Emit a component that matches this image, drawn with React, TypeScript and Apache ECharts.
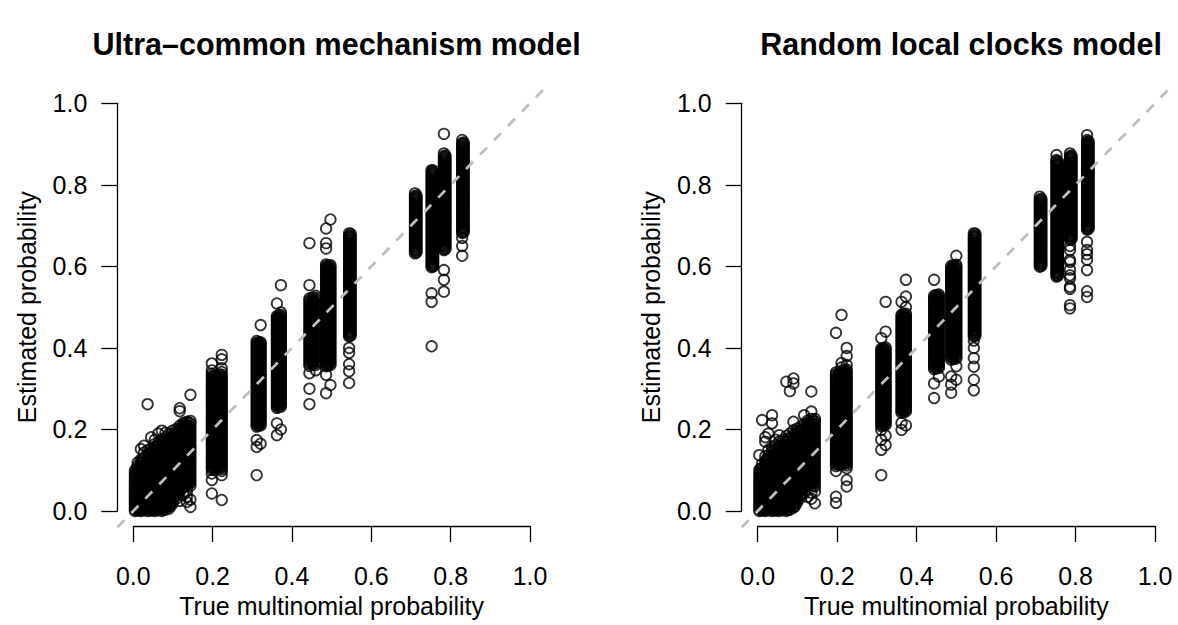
import React, { useEffect, useRef } from "react";
import * as echarts from "echarts";

const panelTitles = ["Ultra\u2013common mechanism model", "Random local clocks model"];
const xAxisTitle = "True multinomial probability";
const yAxisTitle = "Estimated probability";
const identityLine = [-0.04, 1.04];

// Ultra-common mechanism model: true probability (x) columns and the estimates (y) read at each
const ucmX = [0.004, 0.011, 0.019, 0.027, 0.036, 0.045, 0.054, 0.063, 0.072, 0.081, 0.090, 0.099, 0.108, 0.117, 0.126, 0.135, 0.144,
  0.198, 0.223, 0.311, 0.321, 0.362, 0.372, 0.444, 0.460, 0.486, 0.497, 0.544, 0.710, 0.752, 0.783, 0.829,
  0.210, 0.316, 0.367, 0.452, 0.491, 0.548, 0.714, 0.756, 0.787, 0.833,
  0.008, 0.023, 0.040, 0.058, 0.076, 0.094, 0.112, 0.130, 0.140, 0.204, 0.217];
const ucmY = [
  [0.000,0.004,0.010,0.015,0.021,0.026,0.032,0.037,0.043,0.048,0.054,0.059,0.065,0.071,0.077,0.084,0.091,0.099],
  [0.001,0.007,0.012,0.018,0.023,0.029,0.034,0.040,0.046,0.051,0.057,0.063,0.069,0.075,0.081,0.088,0.095,0.103,0.111,0.119],
  [0.000,0.005,0.011,0.016,0.022,0.028,0.033,0.039,0.045,0.050,0.056,0.062,0.068,0.074,0.080,0.087,0.094,0.101,0.109,0.117,0.126,0.152],
  [0.002,0.008,0.013,0.019,0.025,0.031,0.036,0.042,0.048,0.054,0.060,0.066,0.072,0.078,0.085,0.092,0.099,0.106,0.114,0.122,0.131,0.143,0.160],
  [0.000,0.006,0.012,0.018,0.024,0.030,0.036,0.042,0.048,0.054,0.060,0.066,0.072,0.079,0.086,0.093,0.100,0.107,0.115,0.123,0.131,0.140,0.149,0.262],
  [0.001,0.007,0.013,0.019,0.025,0.031,0.037,0.043,0.050,0.056,0.062,0.069,0.075,0.082,0.089,0.096,0.103,0.110,0.118,0.126,0.134,0.143,0.153,0.181],
  [0.000,0.006,0.012,0.018,0.025,0.031,0.037,0.044,0.050,0.057,0.063,0.070,0.077,0.084,0.091,0.098,0.105,0.113,0.120,0.128,0.136,0.145,0.154,0.164,0.174],
  [0.002,0.008,0.014,0.021,0.027,0.034,0.040,0.047,0.053,0.060,0.067,0.074,0.081,0.088,0.095,0.102,0.110,0.117,0.125,0.133,0.141,0.150,0.159,0.168,0.190],
  [0.000,0.006,0.013,0.019,0.026,0.032,0.039,0.046,0.052,0.059,0.066,0.073,0.080,0.087,0.094,0.101,0.109,0.116,0.124,0.132,0.140,0.148,0.157,0.166,0.176,0.197],
  [0.003,0.009,0.016,0.022,0.029,0.036,0.043,0.049,0.056,0.063,0.070,0.077,0.084,0.092,0.099,0.106,0.114,0.122,0.130,0.138,0.146,0.154,0.163,0.172,0.181,0.192],
  [0.006,0.012,0.019,0.026,0.033,0.040,0.047,0.054,0.061,0.068,0.075,0.083,0.090,0.098,0.105,0.113,0.121,0.129,0.137,0.145,0.153,0.162,0.171,0.180,0.189],
  [0.018,0.025,0.032,0.039,0.046,0.053,0.060,0.068,0.075,0.082,0.090,0.097,0.105,0.113,0.120,0.128,0.136,0.144,0.152,0.161,0.169,0.178,0.187,0.197],
  [0.030,0.037,0.044,0.051,0.058,0.066,0.073,0.080,0.088,0.095,0.103,0.110,0.118,0.126,0.134,0.142,0.150,0.158,0.166,0.175,0.183,0.192,0.201],
  [0.025,0.046,0.053,0.060,0.067,0.075,0.082,0.090,0.097,0.105,0.112,0.120,0.128,0.136,0.144,0.152,0.160,0.168,0.176,0.185,0.193,0.201,0.209,0.245,0.252],
  [0.040,0.058,0.065,0.072,0.080,0.087,0.095,0.102,0.110,0.117,0.125,0.132,0.140,0.148,0.156,0.163,0.171,0.179,0.187,0.195,0.203,0.210,0.216],
  [0.022,0.035,0.048,0.064,0.071,0.078,0.085,0.093,0.100,0.107,0.114,0.122,0.129,0.137,0.144,0.151,0.159,0.166,0.174,0.181,0.189,0.196,0.204,0.211,0.219],
  [0.010,0.028,0.062,0.069,0.076,0.083,0.090,0.098,0.105,0.112,0.119,0.126,0.133,0.141,0.148,0.155,0.162,0.170,0.177,0.184,0.192,0.199,0.206,0.214,0.221,0.285],
  [0.043,0.076,0.092,0.101,0.106,0.110,0.116,0.121,0.125,0.131,0.135,0.140,0.146,0.150,0.156,0.161,0.165,0.170,0.176,0.180,0.185,0.191,0.195,0.201,0.205,0.210,0.216,0.220,0.226,0.230,0.235,0.241,0.245,0.250,0.256,0.260,0.265,0.271,0.275,0.280,0.286,0.290,0.296,0.300,0.305,0.311,0.315,0.321,0.326,0.331,0.337,0.345,0.362],
  [0.027,0.088,0.098,0.103,0.108,0.113,0.118,0.123,0.128,0.133,0.138,0.143,0.148,0.153,0.158,0.163,0.168,0.173,0.178,0.183,0.188,0.193,0.198,0.203,0.208,0.213,0.218,0.223,0.228,0.233,0.238,0.243,0.248,0.253,0.258,0.263,0.268,0.273,0.278,0.283,0.288,0.293,0.298,0.303,0.308,0.313,0.318,0.323,0.328,0.334,0.341,0.350,0.372,0.383],
  [0.088,0.157,0.174,0.207,0.212,0.217,0.222,0.227,0.232,0.237,0.242,0.247,0.252,0.257,0.262,0.267,0.272,0.277,0.282,0.287,0.292,0.297,0.302,0.307,0.312,0.317,0.322,0.327,0.332,0.337,0.342,0.347,0.352,0.357,0.362,0.367,0.372,0.377,0.382,0.387,0.392,0.397,0.402,0.407,0.412,0.417],
  [0.165,0.210,0.215,0.220,0.225,0.230,0.235,0.240,0.245,0.250,0.255,0.260,0.265,0.270,0.275,0.280,0.285,0.290,0.295,0.300,0.305,0.310,0.315,0.320,0.325,0.330,0.335,0.340,0.345,0.350,0.355,0.360,0.365,0.370,0.375,0.380,0.385,0.390,0.395,0.400,0.405,0.410,0.414,0.456],
  [0.186,0.215,0.253,0.258,0.263,0.268,0.273,0.278,0.283,0.288,0.293,0.298,0.303,0.308,0.313,0.318,0.323,0.328,0.333,0.338,0.343,0.348,0.353,0.358,0.363,0.368,0.373,0.378,0.383,0.388,0.393,0.398,0.403,0.408,0.413,0.418,0.423,0.428,0.433,0.438,0.443,0.448,0.453,0.458,0.463,0.468,0.473,0.478,0.509],
  [0.200,0.256,0.261,0.266,0.271,0.276,0.281,0.286,0.291,0.296,0.301,0.306,0.311,0.316,0.321,0.326,0.331,0.336,0.341,0.346,0.351,0.356,0.361,0.366,0.371,0.376,0.381,0.386,0.391,0.396,0.401,0.406,0.411,0.416,0.421,0.426,0.431,0.436,0.441,0.446,0.451,0.456,0.461,0.466,0.471,0.476,0.481,0.487,0.554],
  [0.262,0.300,0.338,0.356,0.361,0.366,0.371,0.376,0.381,0.386,0.391,0.396,0.401,0.406,0.411,0.416,0.421,0.426,0.431,0.436,0.441,0.446,0.451,0.456,0.461,0.466,0.471,0.476,0.481,0.486,0.491,0.496,0.501,0.506,0.511,0.516,0.521,0.554,0.657],
  [0.345,0.358,0.363,0.368,0.373,0.378,0.383,0.388,0.393,0.398,0.403,0.408,0.413,0.418,0.423,0.428,0.433,0.438,0.443,0.448,0.453,0.458,0.463,0.468,0.473,0.478,0.483,0.488,0.493,0.498,0.503,0.508,0.513,0.518,0.523,0.528],
  [0.289,0.334,0.355,0.360,0.365,0.370,0.375,0.380,0.385,0.390,0.395,0.400,0.405,0.410,0.415,0.420,0.425,0.430,0.435,0.440,0.445,0.450,0.455,0.460,0.465,0.470,0.475,0.480,0.485,0.490,0.495,0.500,0.505,0.510,0.515,0.520,0.525,0.530,0.535,0.540,0.545,0.550,0.555,0.560,0.565,0.570,0.575,0.580,0.585,0.590,0.595,0.600,0.605,0.644,0.657,0.693],
  [0.309,0.358,0.363,0.368,0.373,0.378,0.383,0.388,0.393,0.398,0.403,0.408,0.413,0.418,0.423,0.428,0.433,0.438,0.443,0.448,0.453,0.458,0.463,0.468,0.473,0.478,0.483,0.488,0.493,0.498,0.503,0.508,0.513,0.518,0.523,0.528,0.533,0.538,0.543,0.548,0.553,0.558,0.563,0.568,0.573,0.578,0.583,0.588,0.593,0.598,0.603,0.715],
  [0.314,0.343,0.360,0.388,0.400,0.428,0.432,0.437,0.441,0.446,0.450,0.455,0.459,0.464,0.468,0.473,0.477,0.482,0.486,0.491,0.495,0.500,0.504,0.509,0.513,0.518,0.522,0.527,0.531,0.536,0.540,0.545,0.549,0.554,0.558,0.563,0.567,0.572,0.576,0.581,0.585,0.590,0.594,0.599,0.603,0.608,0.612,0.617,0.621,0.626,0.630,0.635,0.639,0.644,0.648,0.653,0.657,0.662,0.666,0.671,0.675,0.681],
  [0.632,0.637,0.642,0.647,0.652,0.657,0.662,0.667,0.672,0.677,0.682,0.687,0.692,0.697,0.702,0.707,0.712,0.717,0.722,0.727,0.732,0.737,0.742,0.747,0.752,0.757,0.762,0.767,0.772,0.779],
  [0.404,0.513,0.534,0.598,0.602,0.607,0.611,0.616,0.620,0.625,0.629,0.634,0.638,0.643,0.647,0.652,0.656,0.661,0.665,0.670,0.674,0.679,0.683,0.688,0.692,0.697,0.701,0.706,0.710,0.715,0.719,0.724,0.728,0.733,0.737,0.742,0.746,0.751,0.755,0.760,0.764,0.769,0.773,0.778,0.782,0.787,0.791,0.796,0.800,0.805,0.809,0.814,0.818,0.823,0.827,0.832,0.836],
  [0.538,0.567,0.591,0.640,0.644,0.649,0.653,0.658,0.662,0.667,0.671,0.676,0.680,0.685,0.689,0.694,0.698,0.703,0.707,0.712,0.716,0.721,0.725,0.730,0.734,0.739,0.743,0.748,0.752,0.757,0.761,0.766,0.770,0.775,0.779,0.784,0.788,0.793,0.797,0.802,0.806,0.811,0.815,0.820,0.824,0.829,0.833,0.838,0.842,0.847,0.851,0.856,0.860,0.865,0.870,0.877,0.925],
  [0.626,0.650,0.670,0.682,0.686,0.691,0.695,0.700,0.704,0.709,0.713,0.718,0.722,0.727,0.731,0.736,0.740,0.745,0.749,0.754,0.758,0.763,0.767,0.772,0.776,0.781,0.785,0.790,0.794,0.799,0.803,0.808,0.812,0.817,0.821,0.826,0.830,0.835,0.839,0.844,0.848,0.853,0.857,0.862,0.866,0.871,0.875,0.880,0.884,0.889,0.893,0.898,0.902,0.910],
  [0.106,0.111,0.116,0.121,0.126,0.131,0.136,0.141,0.146,0.151,0.156,0.161,0.166,0.171,0.176,0.181,0.186,0.191,0.196,0.201,0.206,0.211,0.216,0.221,0.226,0.231,0.236,0.241,0.246,0.251,0.256,0.261,0.266,0.271,0.276,0.281,0.286,0.291,0.296,0.301,0.306,0.311,0.316,0.321,0.326,0.331],
  [0.209,0.214,0.219,0.224,0.229,0.234,0.239,0.244,0.249,0.254,0.259,0.264,0.269,0.274,0.279,0.284,0.289,0.294,0.299,0.304,0.309,0.314,0.319,0.324,0.329,0.334,0.339,0.344,0.349,0.354,0.359,0.364,0.369,0.374,0.379,0.384,0.389,0.394,0.399,0.404,0.409,0.414],
  [0.255,0.260,0.265,0.270,0.275,0.280,0.285,0.290,0.295,0.300,0.305,0.310,0.315,0.320,0.325,0.330,0.335,0.340,0.345,0.350,0.355,0.360,0.365,0.370,0.375,0.380,0.385,0.390,0.395,0.400,0.405,0.410,0.415,0.420,0.425,0.430,0.435,0.440,0.445,0.450,0.455,0.460,0.465,0.470,0.475,0.480],
  [0.359,0.364,0.369,0.374,0.379,0.384,0.389,0.394,0.399,0.404,0.409,0.414,0.419,0.424,0.429,0.434,0.439,0.444,0.449,0.454,0.459,0.464,0.469,0.474,0.479,0.484,0.489,0.494,0.499,0.504,0.509,0.514,0.519,0.524],
  [0.357,0.362,0.367,0.372,0.377,0.382,0.387,0.392,0.397,0.402,0.407,0.412,0.417,0.422,0.427,0.432,0.437,0.442,0.447,0.452,0.457,0.462,0.467,0.472,0.477,0.482,0.487,0.492,0.497,0.502,0.507,0.512,0.517,0.522,0.527,0.532,0.537,0.542,0.547,0.552,0.557,0.562,0.567,0.572,0.577,0.582,0.587,0.592,0.597,0.602],
  [0.430,0.435,0.440,0.445,0.450,0.455,0.460,0.465,0.470,0.475,0.480,0.485,0.490,0.495,0.500,0.505,0.510,0.515,0.520,0.525,0.530,0.535,0.540,0.545,0.550,0.555,0.560,0.565,0.570,0.575,0.580,0.585,0.590,0.595,0.600,0.605,0.610,0.615,0.620,0.625,0.630,0.635,0.640,0.645,0.650,0.655,0.660,0.665,0.670,0.675,0.680],
  [0.634,0.639,0.644,0.649,0.654,0.659,0.664,0.669,0.674,0.679,0.684,0.689,0.694,0.699,0.704,0.709,0.714,0.719,0.724,0.729,0.734,0.739,0.744,0.749,0.754,0.759,0.764,0.769,0.774],
  [0.600,0.605,0.610,0.615,0.620,0.625,0.630,0.635,0.640,0.645,0.650,0.655,0.660,0.665,0.670,0.675,0.680,0.685,0.690,0.695,0.700,0.705,0.710,0.715,0.720,0.725,0.730,0.735,0.740,0.745,0.750,0.755,0.760,0.765,0.770,0.775,0.780,0.785,0.790,0.795,0.800,0.805,0.810,0.815,0.820,0.825,0.830,0.835],
  [0.642,0.647,0.652,0.657,0.662,0.667,0.672,0.677,0.682,0.687,0.692,0.697,0.702,0.707,0.712,0.717,0.722,0.727,0.732,0.737,0.742,0.747,0.752,0.757,0.762,0.767,0.772,0.777,0.782,0.787,0.792,0.797,0.802,0.807,0.812,0.817,0.822,0.827,0.832,0.837,0.842,0.847,0.852,0.857,0.862,0.867,0.872],
  [0.684,0.689,0.694,0.699,0.704,0.709,0.714,0.719,0.724,0.729,0.734,0.739,0.744,0.749,0.754,0.759,0.764,0.769,0.774,0.779,0.784,0.789,0.794,0.799,0.804,0.809,0.814,0.819,0.824,0.829,0.834,0.839,0.844,0.849,0.854,0.859,0.864,0.869,0.874,0.879,0.884,0.889,0.894,0.899,0.904],
  [0.003,0.009,0.015,0.021,0.027,0.033,0.039,0.045,0.051,0.057,0.063,0.069,0.075,0.082,0.089,0.096,0.104],
  [0.003,0.009,0.015,0.021,0.027,0.033,0.039,0.045,0.051,0.057,0.063,0.069,0.075,0.082,0.089,0.096,0.103,0.110,0.118,0.126],
  [0.003,0.009,0.015,0.021,0.027,0.033,0.039,0.045,0.051,0.057,0.063,0.069,0.076,0.083,0.090,0.097,0.104,0.111,0.119,0.127,0.135,0.144],
  [0.003,0.009,0.015,0.022,0.028,0.034,0.041,0.047,0.054,0.060,0.067,0.074,0.081,0.088,0.095,0.102,0.109,0.116,0.124,0.132,0.140,0.149,0.158],
  [0.003,0.010,0.016,0.023,0.029,0.036,0.043,0.050,0.057,0.064,0.071,0.078,0.085,0.092,0.099,0.106,0.113,0.120,0.128,0.136,0.144,0.153,0.162,0.171],
  [0.012,0.019,0.026,0.033,0.040,0.047,0.054,0.061,0.068,0.075,0.082,0.089,0.096,0.104,0.112,0.120,0.128,0.136,0.144,0.152,0.160,0.169,0.178],
  [0.040,0.047,0.055,0.062,0.070,0.077,0.085,0.092,0.100,0.108,0.116,0.124,0.132,0.140,0.148,0.156,0.164,0.172,0.180,0.189,0.198],
  [0.062,0.069,0.076,0.084,0.091,0.099,0.106,0.114,0.121,0.129,0.136,0.144,0.152,0.159,0.167,0.175,0.183,0.191,0.199,0.207,0.214],
  [0.066,0.073,0.080,0.087,0.094,0.102,0.109,0.116,0.123,0.130,0.137,0.145,0.152,0.159,0.166,0.173,0.180,0.188,0.195,0.202,0.209,0.217],
  [0.103,0.108,0.113,0.118,0.123,0.128,0.133,0.138,0.143,0.148,0.153,0.158,0.163,0.168,0.173,0.178,0.183,0.188,0.193,0.198,0.203,0.208,0.213,0.218,0.223,0.228,0.233,0.238,0.243,0.248,0.253,0.258,0.263,0.268,0.273,0.278,0.283,0.288,0.293,0.298,0.303,0.308,0.313,0.318,0.323,0.328,0.333],
  [0.105,0.110,0.115,0.120,0.125,0.130,0.135,0.140,0.145,0.150,0.155,0.160,0.165,0.170,0.175,0.180,0.185,0.190,0.195,0.200,0.205,0.210,0.215,0.220,0.225,0.230,0.235,0.240,0.245,0.250,0.255,0.260,0.265,0.270,0.275,0.280,0.285,0.290,0.295,0.300,0.305,0.310,0.315,0.320,0.325,0.330,0.335],
];

// Random local clocks model
const rlcX = [0.004, 0.011, 0.019, 0.027, 0.036, 0.045, 0.054, 0.063, 0.072, 0.081, 0.090, 0.099, 0.108, 0.117, 0.126, 0.135, 0.144,
  0.197, 0.211, 0.224, 0.311, 0.322, 0.362, 0.373, 0.444, 0.456, 0.487, 0.500, 0.544, 0.710, 0.752, 0.786, 0.829,
  0.211, 0.316, 0.367, 0.450, 0.493, 0.548, 0.714, 0.756, 0.790, 0.833,
  0.008, 0.023, 0.040, 0.058, 0.076, 0.094, 0.112, 0.130, 0.140, 0.204, 0.218];
const rlcY = [
  [0.000,0.005,0.011,0.017,0.023,0.029,0.036,0.042,0.049,0.055,0.062,0.069,0.076,0.084,0.092,0.101,0.137],
  [0.001,0.007,0.013,0.019,0.026,0.032,0.039,0.045,0.052,0.059,0.066,0.073,0.080,0.088,0.096,0.105,0.115,0.223],
  [0.000,0.006,0.012,0.018,0.025,0.031,0.038,0.044,0.051,0.058,0.065,0.072,0.079,0.087,0.095,0.103,0.112,0.122,0.134,0.170,0.181],
  [0.002,0.008,0.014,0.021,0.027,0.034,0.041,0.047,0.054,0.061,0.068,0.075,0.083,0.091,0.099,0.107,0.116,0.126,0.137,0.150,0.190],
  [0.000,0.006,0.013,0.019,0.026,0.032,0.039,0.046,0.053,0.060,0.067,0.074,0.082,0.090,0.098,0.106,0.115,0.124,0.134,0.145,0.157,0.215,0.235],
  [0.001,0.007,0.014,0.020,0.027,0.034,0.041,0.048,0.055,0.062,0.069,0.077,0.085,0.093,0.101,0.110,0.119,0.128,0.138,0.149,0.161,0.175],
  [0.000,0.006,0.012,0.019,0.026,0.033,0.040,0.047,0.054,0.061,0.068,0.076,0.084,0.092,0.100,0.109,0.118,0.127,0.137,0.147,0.158,0.170,0.186],
  [0.002,0.008,0.015,0.022,0.029,0.036,0.043,0.050,0.057,0.064,0.072,0.080,0.088,0.096,0.104,0.113,0.122,0.131,0.141,0.151,0.162,0.174],
  [0.000,0.006,0.013,0.020,0.027,0.034,0.041,0.049,0.056,0.063,0.071,0.079,0.087,0.095,0.103,0.112,0.121,0.130,0.140,0.150,0.161,0.172,0.184,0.317],
  [0.003,0.010,0.017,0.024,0.031,0.038,0.046,0.053,0.061,0.068,0.076,0.084,0.092,0.100,0.109,0.118,0.127,0.136,0.146,0.156,0.167,0.178,0.190,0.294],
  [0.008,0.015,0.022,0.029,0.037,0.044,0.052,0.059,0.067,0.075,0.083,0.091,0.099,0.108,0.117,0.126,0.135,0.145,0.155,0.165,0.176,0.187,0.198,0.219,0.313,0.325],
  [0.020,0.027,0.035,0.042,0.050,0.057,0.065,0.073,0.081,0.089,0.097,0.105,0.114,0.123,0.132,0.141,0.150,0.160,0.170,0.180,0.191,0.202],
  [0.032,0.040,0.047,0.055,0.063,0.071,0.079,0.087,0.095,0.103,0.111,0.120,0.129,0.138,0.147,0.156,0.166,0.176,0.186,0.196,0.207],
  [0.043,0.058,0.066,0.074,0.082,0.090,0.098,0.106,0.114,0.122,0.131,0.140,0.149,0.158,0.167,0.176,0.186,0.196,0.205,0.214,0.235],
  [0.035,0.062,0.070,0.078,0.086,0.094,0.102,0.110,0.118,0.126,0.135,0.143,0.152,0.160,0.169,0.178,0.187,0.196,0.205,0.214,0.222],
  [0.030,0.045,0.066,0.074,0.082,0.090,0.098,0.106,0.114,0.122,0.130,0.138,0.146,0.154,0.162,0.170,0.178,0.186,0.194,0.202,0.210,0.218,0.226,0.244,0.293],
  [0.019,0.048,0.060,0.068,0.076,0.084,0.092,0.100,0.108,0.116,0.124,0.132,0.140,0.148,0.156,0.164,0.172,0.180,0.188,0.196,0.204,0.212,0.220,0.226],
  [0.020,0.035,0.098,0.110,0.115,0.120,0.125,0.130,0.135,0.140,0.145,0.150,0.155,0.160,0.165,0.170,0.175,0.180,0.185,0.190,0.195,0.200,0.205,0.210,0.215,0.220,0.225,0.230,0.235,0.240,0.245,0.250,0.255,0.260,0.265,0.270,0.275,0.280,0.285,0.290,0.295,0.300,0.305,0.310,0.315,0.320,0.325,0.330,0.335,0.340,0.437],
  [0.352,0.363,0.481],
  [0.060,0.076,0.105,0.112,0.117,0.122,0.127,0.132,0.137,0.142,0.147,0.152,0.157,0.162,0.167,0.172,0.177,0.182,0.187,0.192,0.197,0.202,0.207,0.212,0.217,0.222,0.227,0.232,0.237,0.242,0.247,0.252,0.257,0.262,0.267,0.272,0.277,0.282,0.287,0.292,0.297,0.302,0.307,0.312,0.317,0.322,0.327,0.332,0.337,0.342,0.347,0.358,0.380,0.400],
  [0.088,0.150,0.175,0.199,0.208,0.213,0.218,0.223,0.228,0.233,0.238,0.243,0.248,0.253,0.258,0.263,0.268,0.273,0.278,0.283,0.288,0.293,0.298,0.303,0.308,0.313,0.318,0.323,0.328,0.333,0.338,0.343,0.348,0.353,0.358,0.363,0.368,0.373,0.378,0.383,0.388,0.393,0.398,0.424],
  [0.162,0.185,0.211,0.216,0.221,0.226,0.231,0.236,0.241,0.246,0.251,0.256,0.261,0.266,0.271,0.276,0.281,0.286,0.291,0.296,0.301,0.306,0.311,0.316,0.321,0.326,0.331,0.336,0.341,0.346,0.351,0.356,0.361,0.366,0.371,0.376,0.381,0.386,0.391,0.396,0.401,0.440,0.513],
  [0.199,0.216,0.241,0.246,0.251,0.256,0.261,0.266,0.271,0.276,0.281,0.286,0.291,0.296,0.301,0.306,0.311,0.316,0.321,0.326,0.331,0.336,0.341,0.346,0.351,0.356,0.361,0.366,0.371,0.376,0.381,0.386,0.391,0.396,0.401,0.406,0.411,0.416,0.421,0.426,0.431,0.436,0.441,0.446,0.451,0.456,0.461,0.466,0.471,0.476,0.481,0.513],
  [0.210,0.244,0.249,0.254,0.259,0.264,0.269,0.274,0.279,0.284,0.289,0.294,0.299,0.304,0.309,0.314,0.319,0.324,0.329,0.334,0.339,0.344,0.349,0.354,0.359,0.364,0.369,0.374,0.379,0.384,0.389,0.394,0.399,0.404,0.409,0.414,0.419,0.424,0.429,0.434,0.439,0.444,0.449,0.454,0.459,0.464,0.469,0.474,0.479,0.484,0.500,0.526,0.567],
  [0.277,0.313,0.348,0.353,0.358,0.363,0.368,0.373,0.378,0.383,0.388,0.393,0.398,0.403,0.408,0.413,0.418,0.423,0.428,0.433,0.438,0.443,0.448,0.453,0.458,0.463,0.468,0.473,0.478,0.483,0.488,0.493,0.498,0.503,0.508,0.513,0.518,0.523,0.528,0.567],
  [0.330,0.351,0.356,0.361,0.366,0.371,0.376,0.381,0.386,0.391,0.396,0.401,0.406,0.411,0.416,0.421,0.426,0.431,0.436,0.441,0.446,0.451,0.456,0.461,0.466,0.471,0.476,0.481,0.486,0.491,0.496,0.501,0.506,0.511,0.516,0.521,0.526,0.531],
  [0.290,0.310,0.330,0.371,0.376,0.381,0.386,0.391,0.396,0.401,0.406,0.411,0.416,0.421,0.426,0.431,0.436,0.441,0.446,0.451,0.456,0.461,0.466,0.471,0.476,0.481,0.486,0.491,0.496,0.501,0.506,0.511,0.516,0.521,0.526,0.531,0.536,0.541,0.546,0.551,0.556,0.561,0.566,0.571,0.576,0.581,0.586,0.591,0.596,0.601],
  [0.322,0.355,0.374,0.379,0.384,0.389,0.394,0.399,0.404,0.409,0.414,0.419,0.424,0.429,0.434,0.439,0.444,0.449,0.454,0.459,0.464,0.469,0.474,0.479,0.484,0.489,0.494,0.499,0.504,0.509,0.514,0.519,0.524,0.529,0.534,0.539,0.544,0.549,0.554,0.559,0.564,0.569,0.574,0.579,0.584,0.589,0.594,0.599,0.604,0.626],
  [0.296,0.322,0.354,0.375,0.400,0.418,0.428,0.432,0.437,0.441,0.446,0.450,0.455,0.459,0.464,0.468,0.473,0.477,0.482,0.486,0.491,0.495,0.500,0.504,0.509,0.513,0.518,0.522,0.527,0.531,0.536,0.540,0.545,0.549,0.554,0.558,0.563,0.567,0.572,0.576,0.581,0.585,0.590,0.594,0.599,0.603,0.608,0.612,0.617,0.621,0.626,0.630,0.635,0.639,0.644,0.648,0.653,0.657,0.662,0.666,0.671,0.675,0.681],
  [0.599,0.604,0.609,0.614,0.619,0.624,0.629,0.634,0.639,0.644,0.649,0.654,0.659,0.664,0.669,0.674,0.679,0.684,0.689,0.694,0.699,0.704,0.709,0.714,0.719,0.724,0.729,0.734,0.739,0.744,0.749,0.754,0.759,0.764,0.771],
  [0.575,0.579,0.584,0.588,0.593,0.597,0.602,0.606,0.611,0.615,0.620,0.624,0.629,0.633,0.638,0.642,0.647,0.651,0.656,0.660,0.665,0.669,0.674,0.678,0.683,0.687,0.692,0.696,0.701,0.705,0.710,0.714,0.719,0.723,0.728,0.732,0.737,0.741,0.746,0.750,0.755,0.759,0.764,0.768,0.773,0.777,0.782,0.786,0.791,0.795,0.800,0.804,0.809,0.813,0.818,0.822,0.827,0.831,0.836,0.840,0.845,0.849,0.854,0.858,0.861,0.873],
  [0.497,0.505,0.545,0.550,0.571,0.578,0.592,0.611,0.616,0.640,0.650,0.665,0.669,0.674,0.678,0.683,0.687,0.692,0.696,0.701,0.705,0.710,0.714,0.719,0.723,0.728,0.732,0.737,0.741,0.746,0.750,0.755,0.759,0.764,0.768,0.773,0.777,0.782,0.786,0.791,0.795,0.800,0.804,0.809,0.813,0.818,0.822,0.827,0.831,0.836,0.840,0.845,0.849,0.854,0.858,0.863,0.867,0.870,0.877],
  [0.525,0.539,0.591,0.616,0.630,0.640,0.660,0.690,0.694,0.699,0.703,0.708,0.712,0.717,0.721,0.726,0.730,0.735,0.739,0.744,0.748,0.753,0.757,0.762,0.766,0.771,0.775,0.780,0.784,0.789,0.793,0.798,0.802,0.807,0.811,0.816,0.820,0.825,0.829,0.834,0.838,0.843,0.847,0.852,0.856,0.861,0.865,0.870,0.874,0.879,0.883,0.888,0.892,0.897,0.901,0.905,0.910,0.922],
  [0.114,0.119,0.124,0.129,0.134,0.139,0.144,0.149,0.154,0.159,0.164,0.169,0.174,0.179,0.184,0.189,0.194,0.199,0.204,0.209,0.214,0.219,0.224,0.229,0.234,0.239,0.244,0.249,0.254,0.259,0.264,0.269,0.274,0.279,0.284,0.289,0.294,0.299,0.304,0.309,0.314,0.319,0.324,0.329,0.334,0.339,0.344],
  [0.210,0.215,0.220,0.225,0.230,0.235,0.240,0.245,0.250,0.255,0.260,0.265,0.270,0.275,0.280,0.285,0.290,0.295,0.300,0.305,0.310,0.315,0.320,0.325,0.330,0.335,0.340,0.345,0.350,0.355,0.360,0.365,0.370,0.375,0.380,0.385,0.390,0.395,0.400],
  [0.243,0.248,0.253,0.258,0.263,0.268,0.273,0.278,0.283,0.288,0.293,0.298,0.303,0.308,0.313,0.318,0.323,0.328,0.333,0.338,0.343,0.348,0.353,0.358,0.363,0.368,0.373,0.378,0.383,0.388,0.393,0.398,0.403,0.408,0.413,0.418,0.423,0.428,0.433,0.438,0.443,0.448,0.453,0.458,0.463,0.468,0.473,0.478,0.483],
  [0.350,0.355,0.360,0.365,0.370,0.375,0.380,0.385,0.390,0.395,0.400,0.405,0.410,0.415,0.420,0.425,0.430,0.435,0.440,0.445,0.450,0.455,0.460,0.465,0.470,0.475,0.480,0.485,0.490,0.495,0.500,0.505,0.510,0.515,0.520,0.525,0.530],
  [0.373,0.378,0.383,0.388,0.393,0.398,0.403,0.408,0.413,0.418,0.423,0.428,0.433,0.438,0.443,0.448,0.453,0.458,0.463,0.468,0.473,0.478,0.483,0.488,0.493,0.498,0.503,0.508,0.513,0.518,0.523,0.528,0.533,0.538,0.543,0.548,0.553,0.558,0.563,0.568,0.573,0.578,0.583,0.588,0.593,0.598,0.603],
  [0.430,0.435,0.440,0.445,0.450,0.455,0.460,0.465,0.470,0.475,0.480,0.485,0.490,0.495,0.500,0.505,0.510,0.515,0.520,0.525,0.530,0.535,0.540,0.545,0.550,0.555,0.560,0.565,0.570,0.575,0.580,0.585,0.590,0.595,0.600,0.605,0.610,0.615,0.620,0.625,0.630,0.635,0.640,0.645,0.650,0.655,0.660,0.665,0.670,0.675,0.680],
  [0.601,0.606,0.611,0.616,0.621,0.626,0.631,0.636,0.641,0.646,0.651,0.656,0.661,0.666,0.671,0.676,0.681,0.686,0.691,0.696,0.701,0.706,0.711,0.716,0.721,0.726,0.731,0.736,0.741,0.746,0.751,0.756,0.761,0.766],
  [0.577,0.582,0.587,0.592,0.597,0.602,0.607,0.612,0.617,0.622,0.627,0.632,0.637,0.642,0.647,0.652,0.657,0.662,0.667,0.672,0.677,0.682,0.687,0.692,0.697,0.702,0.707,0.712,0.717,0.722,0.727,0.732,0.737,0.742,0.747,0.752,0.757,0.762,0.767,0.772,0.777,0.782,0.787,0.792,0.797,0.802,0.807,0.812,0.817,0.822,0.827,0.832,0.837,0.842,0.847,0.852,0.857],
  [0.667,0.672,0.677,0.682,0.687,0.692,0.697,0.702,0.707,0.712,0.717,0.722,0.727,0.732,0.737,0.742,0.747,0.752,0.757,0.762,0.767,0.772,0.777,0.782,0.787,0.792,0.797,0.802,0.807,0.812,0.817,0.822,0.827,0.832,0.837,0.842,0.847,0.852,0.857,0.862,0.867,0.872],
  [0.692,0.697,0.702,0.707,0.712,0.717,0.722,0.727,0.732,0.737,0.742,0.747,0.752,0.757,0.762,0.767,0.772,0.777,0.782,0.787,0.792,0.797,0.802,0.807,0.812,0.817,0.822,0.827,0.832,0.837,0.842,0.847,0.852,0.857,0.862,0.867,0.872,0.877,0.882,0.887,0.892,0.897,0.902,0.907],
  [0.003,0.009,0.015,0.021,0.027,0.033,0.039,0.045,0.051,0.057,0.063,0.069,0.075,0.082,0.089,0.096,0.104],
  [0.003,0.009,0.015,0.021,0.027,0.033,0.039,0.045,0.051,0.057,0.063,0.069,0.075,0.082,0.089,0.096,0.103,0.111,0.119,0.128],
  [0.003,0.009,0.015,0.021,0.027,0.033,0.039,0.045,0.051,0.058,0.065,0.072,0.079,0.086,0.093,0.101,0.109,0.117,0.125,0.133,0.141,0.150],
  [0.003,0.009,0.016,0.022,0.029,0.036,0.043,0.050,0.057,0.064,0.071,0.078,0.086,0.094,0.102,0.110,0.118,0.127,0.136,0.145,0.155,0.165],
  [0.003,0.010,0.017,0.024,0.031,0.038,0.045,0.052,0.059,0.067,0.075,0.083,0.091,0.099,0.107,0.115,0.124,0.133,0.142,0.151,0.160,0.169,0.178],
  [0.012,0.019,0.026,0.033,0.041,0.048,0.056,0.063,0.071,0.079,0.087,0.095,0.103,0.112,0.121,0.130,0.139,0.148,0.157,0.166,0.175,0.183,0.190],
  [0.045,0.052,0.060,0.068,0.076,0.084,0.092,0.100,0.108,0.116,0.124,0.133,0.142,0.151,0.160,0.170,0.180,0.190,0.200],
  [0.066,0.074,0.082,0.090,0.098,0.106,0.114,0.122,0.130,0.138,0.146,0.154,0.162,0.170,0.178,0.186,0.194,0.202,0.210,0.218],
  [0.062,0.070,0.078,0.086,0.094,0.102,0.110,0.118,0.126,0.134,0.142,0.150,0.158,0.166,0.174,0.182,0.190,0.198,0.206,0.214,0.222],
  [0.113,0.118,0.123,0.128,0.133,0.138,0.143,0.148,0.153,0.158,0.163,0.168,0.173,0.178,0.183,0.188,0.193,0.198,0.203,0.208,0.213,0.218,0.223,0.228,0.233,0.238,0.243,0.248,0.253,0.258,0.263,0.268,0.273,0.278,0.283,0.288,0.293,0.298,0.303,0.308,0.313,0.318,0.323,0.328,0.333,0.338],
  [0.116,0.121,0.126,0.131,0.136,0.141,0.146,0.151,0.156,0.161,0.166,0.171,0.176,0.181,0.186,0.191,0.196,0.201,0.206,0.211,0.216,0.221,0.226,0.231,0.236,0.241,0.246,0.251,0.256,0.261,0.266,0.271,0.276,0.281,0.286,0.291,0.296,0.301,0.306,0.311,0.316,0.321,0.326,0.331,0.336,0.341,0.346],
];

function buildPoints(xs: number[], ys: number[][]) {
  const pts: number[][] = [];
  xs.forEach((x, i) => ys[i].forEach((y) => pts.push([x, y])));
  return pts;
}

const FONT = "'Liberation Sans', Arial, Helvetica, sans-serif";

export default function App() {
  const ref = useRef<HTMLDivElement>(null);
  useEffect(() => {
    if (!ref.current) return;
    const chart = echarts.init(ref.current, null, { renderer: "svg" });
    // data grids (0..1 on both axes)
    const grids: any[] = [
      { left: 133.3, top: 103.3, width: 396.7, height: 407.7 },
      { left: 757.7, top: 103.3, width: 397.3, height: 407.7 },
    ];
    // plot regions (-0.04..1.04) used for the identity line, same scale as the data grids
    [0, 1].forEach((i) => {
      const g = grids[i];
      grids.push({ left: g.left - 0.04 * g.width, top: g.top - 0.04 * g.height, width: 1.08 * g.width, height: 1.08 * g.height });
    });
    const centers = [331.6, 956];
    const mkX = (i: number) => ({
      gridIndex: i, type: "value", min: 0, max: 1, interval: 0.2, offset: 15, position: "bottom",
      axisLine: { show: true, onZero: false, lineStyle: { color: "#000", width: 1.3 } },
      axisTick: { show: true, length: 16, lineStyle: { color: "#000", width: 1.3 } },
      axisLabel: { show: true, showMinLabel: true, showMaxLabel: true, formatter: (v: number) => v.toFixed(1), fontSize: 25, color: "#000", margin: 37, fontFamily: FONT },
      splitLine: { show: false },
      name: xAxisTitle, nameLocation: "middle", nameGap: 67,
      nameTextStyle: { fontSize: 25, color: "#000", fontFamily: FONT },
    });
    const mkY = (i: number) => ({
      gridIndex: i, type: "value", min: 0, max: 1, interval: 0.2, offset: 16, position: "left",
      axisLine: { show: true, onZero: false, lineStyle: { color: "#000", width: 1.3 } },
      axisTick: { show: true, length: 16, lineStyle: { color: "#000", width: 1.3 } },
      axisLabel: { show: true, showMinLabel: true, showMaxLabel: true, formatter: (v: number) => v.toFixed(1), fontSize: 25, color: "#000", margin: 30, fontFamily: FONT },
      splitLine: { show: false },
      name: yAxisTitle, nameLocation: "middle", nameGap: 78,
      nameTextStyle: { fontSize: 25, color: "#000", fontFamily: FONT },
    });
    const hiddenAxis = (i: number) => ({ gridIndex: i, type: "value", min: identityLine[0], max: identityLine[1], show: false, splitLine: { show: false } });
    const panels = [buildPoints(ucmX, ucmY), buildPoints(rlcX, rlcY)];
    const series: any[] = [];
    panels.forEach((pts, i) => {
      series.push({
        type: "scatter", xAxisIndex: i, yAxisIndex: i, data: pts,
        symbol: "circle", symbolSize: 10.5, clip: false, large: false, progressive: 0, silent: true,
        itemStyle: { color: "rgba(0,0,0,0)", borderColor: "#000", borderWidth: 1.8 },
        z: 2,
      });
    });
    [0, 1].forEach((i) => {
      series.push({
        type: "line", xAxisIndex: i + 2, yAxisIndex: i + 2,
        data: [[identityLine[0], identityLine[0]], [identityLine[1], identityLine[1]]],
        symbol: "none", showSymbol: false, clip: false, silent: true,
        lineStyle: { color: "#bebebe", width: 2.8, type: [10, 10] },
        z: 5,
      });
    });
    chart.setOption({
      animation: false,
      backgroundColor: "#fff",
      title: panelTitles.map((t, i) => ({
        text: t, left: centers[i], top: 23, textAlign: "center",
        textStyle: { fontSize: 30.5, fontWeight: "bold", color: "#000", fontFamily: FONT },
      })),
      grid: grids,
      xAxis: [mkX(0), mkX(1), hiddenAxis(2), hiddenAxis(3)],
      yAxis: [mkY(0), mkY(1), hiddenAxis(2), hiddenAxis(3)],
      series,
    });
    return () => chart.dispose();
  }, []);
  return <div ref={ref} style={{ position: "absolute", left: 0, top: 0, width: 1178, height: 625 }} />;
}
